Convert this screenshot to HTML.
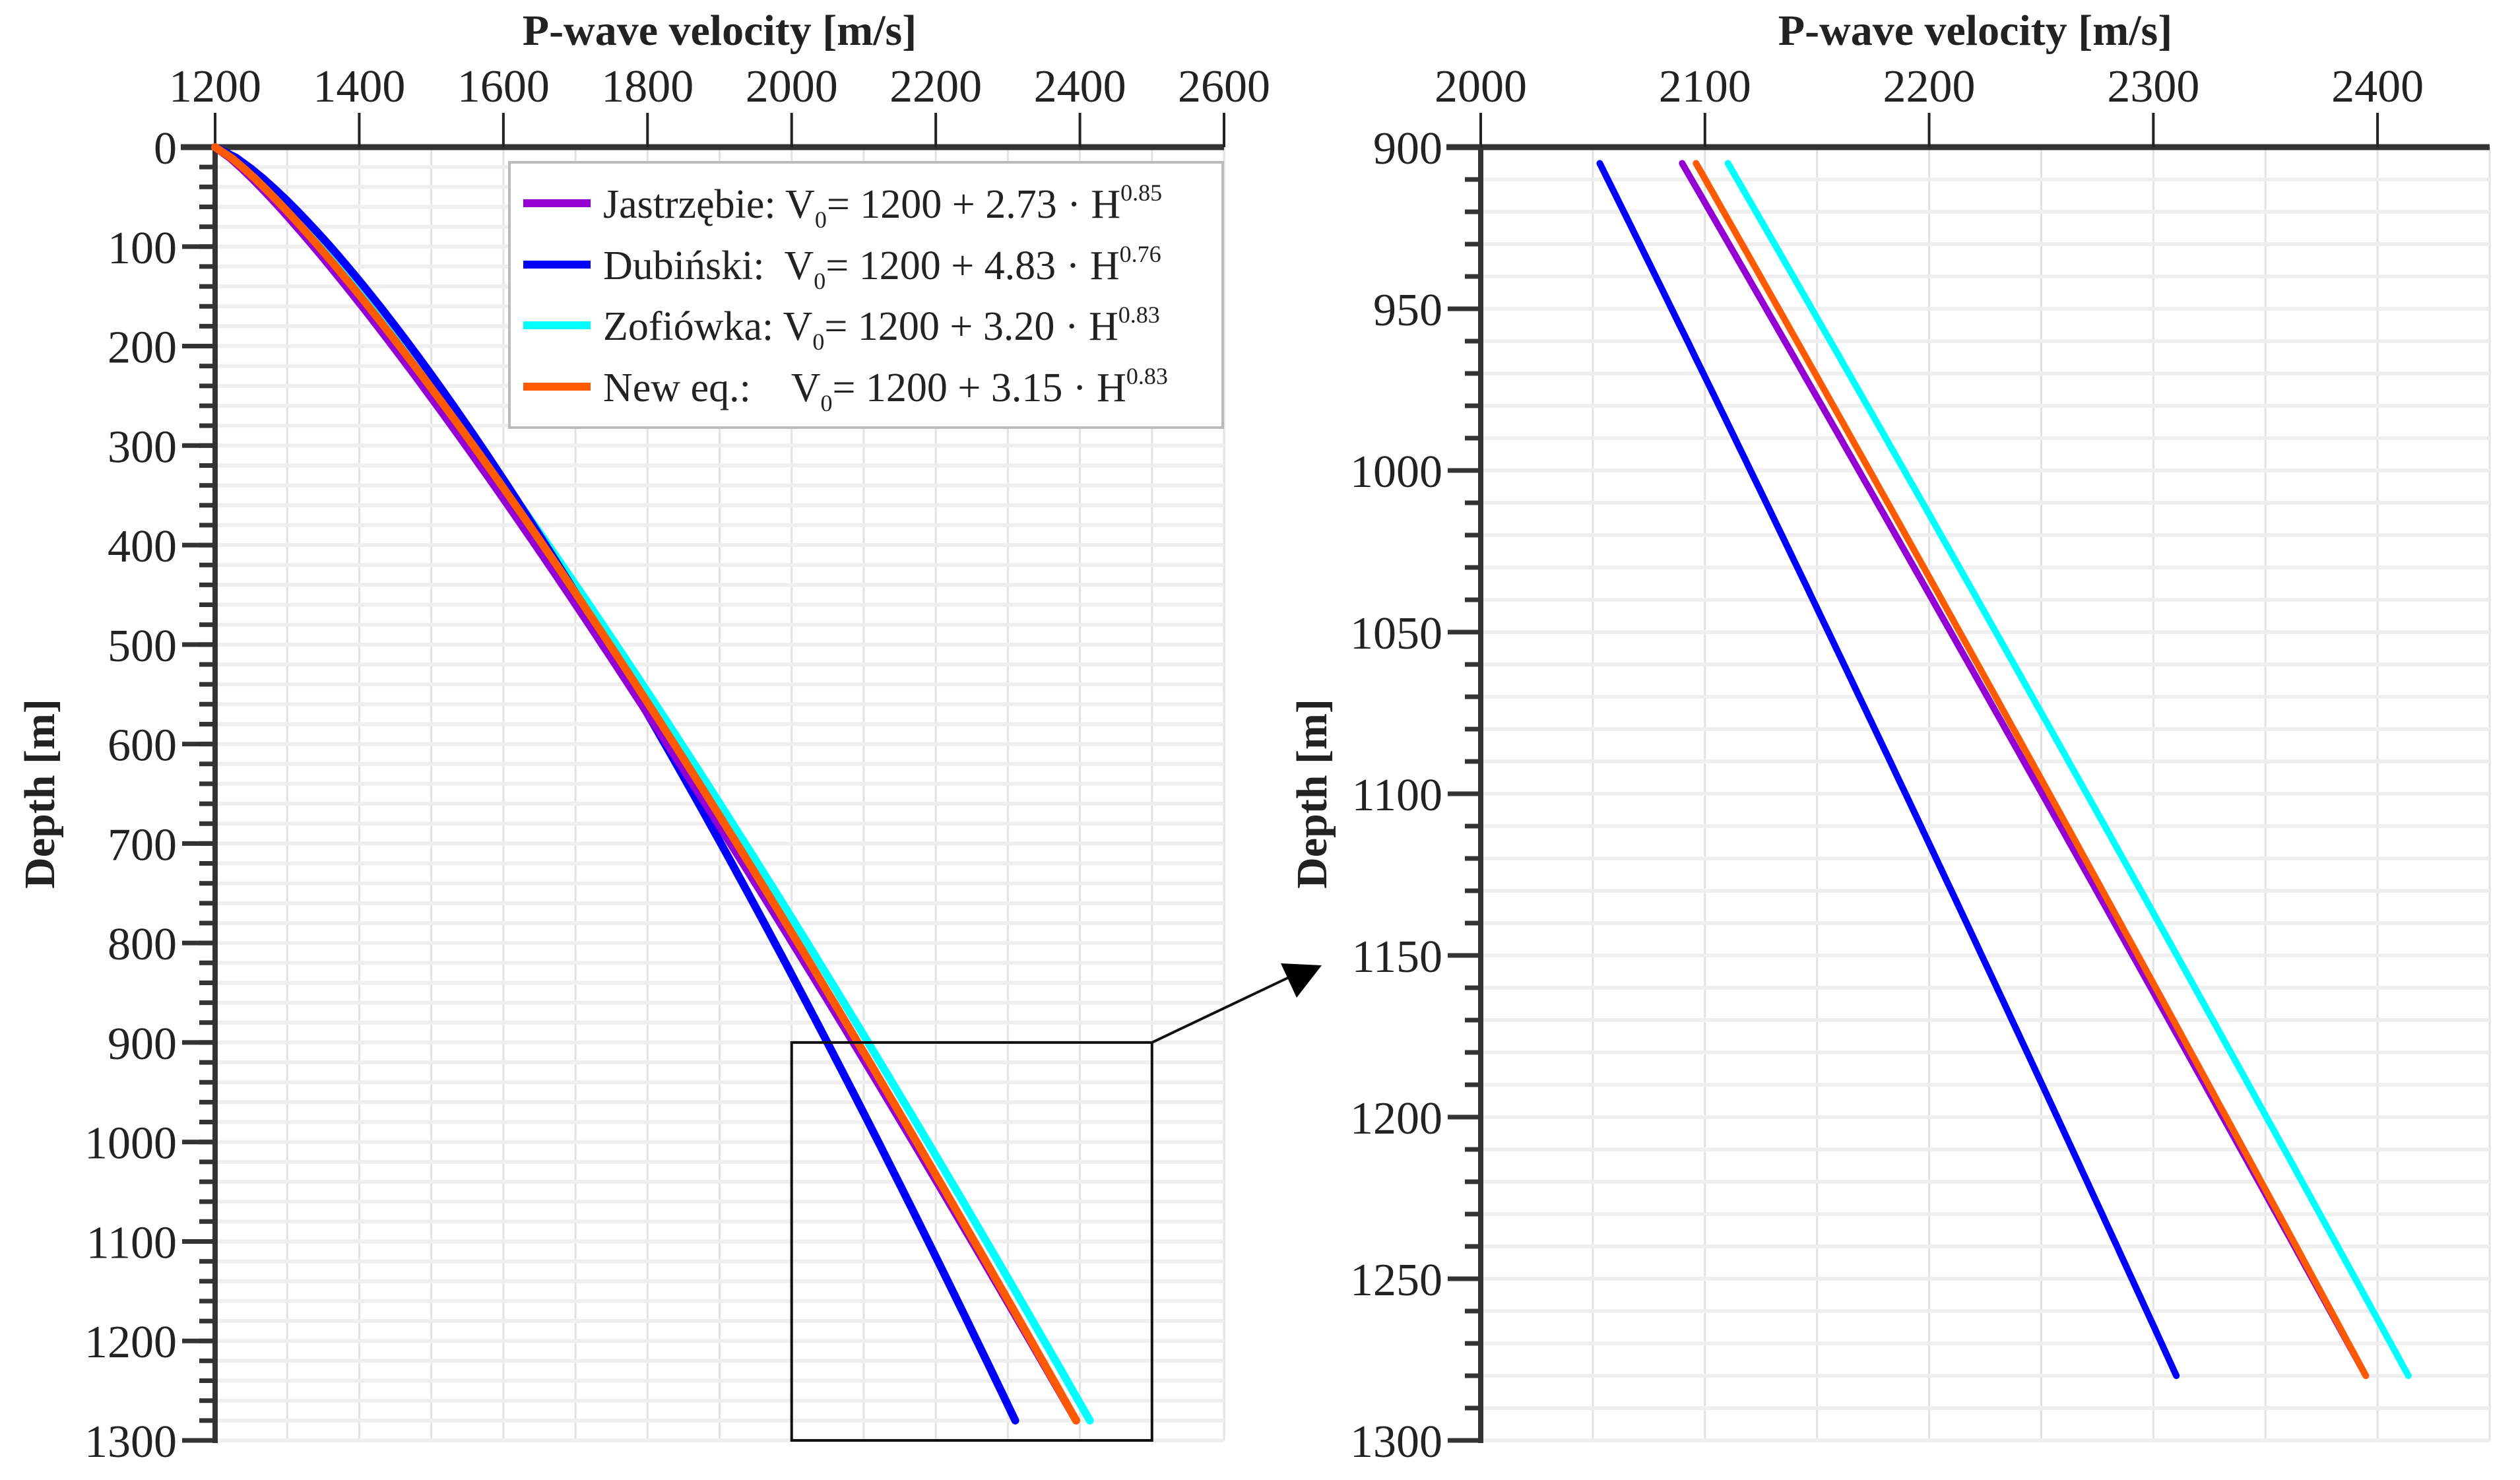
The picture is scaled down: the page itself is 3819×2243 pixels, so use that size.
<!DOCTYPE html>
<html><head><meta charset="utf-8"><style>
html,body{margin:0;padding:0;background:#fff}
svg{display:block}
text{font-family:"Liberation Serif",serif;fill:#222}
.pre{white-space:pre}
</style></head><body>
<svg id="chart" width="3819" height="2243" viewBox="0 0 3819 2243" xmlns="http://www.w3.org/2000/svg">
<g id="left"></g>
<g id="right"></g>
</svg>
<script>
const seriesNames = ["Jastrzębie", "Dubiński", "Zofiówka", "New eq."];
const seriesA = [2.73, 4.83, 3.20, 3.15];
const seriesB = [0.85, 0.76, 0.83, 0.83];
const seriesColors = ["#9400d3", "#0000ff", "#00ffff", "#ff5a00"];
const leftXTicks = [1200, 1400, 1600, 1800, 2000, 2200, 2400, 2600];
const leftYTicks = [0, 100, 200, 300, 400, 500, 600, 700, 800, 900, 1000, 1100, 1200, 1300];
const rightXTicks = [2000, 2100, 2200, 2300, 2400];
const rightYTicks = [900, 950, 1000, 1050, 1100, 1150, 1200, 1250, 1300];
const fullDepthRange = [0, 1280];
const zoomDepthRange = [905, 1280];
const baseVelocity = 1200;

const NS = "http://www.w3.org/2000/svg";
function mk(parent, tag, attrs, txt) {
  const e = document.createElementNS(NS, tag);
  for (const k in attrs) e.setAttribute(k, attrs[k]);
  if (txt !== undefined) e.textContent = txt;
  parent.appendChild(e);
  return e;
}
function vel(i, h) { return baseVelocity + seriesA[i] * Math.pow(h, seriesB[i]); }

function panel(g, cfg) {
  const sx = v => cfg.x0 + (v - cfg.xmin) / (cfg.xmax - cfg.xmin) * (cfg.x1 - cfg.x0);
  const sy = d => cfg.y0 + (d - cfg.ymin) / (cfg.ymax - cfg.ymin) * (cfg.y1 - cfg.y0);
  for (let v = cfg.xmin + cfg.xgrid; v <= cfg.xmax + 0.01; v += cfg.xgrid) {
    const l = mk(g, "line", {x1: sx(v), x2: sx(v), y1: cfg.y0, y2: cfg.y1, stroke: "#e2e2e2", "stroke-width": 3});
    
    
  }
  for (let d = cfg.ymin + cfg.yminor; d <= cfg.ymax + 0.01; d += cfg.yminor) {
    const l = mk(g, "line", {x1: cfg.x0, x2: cfg.x1, y1: sy(d), y2: sy(d), stroke: "#efefef", "stroke-width": 6});
    
    
    const t = mk(g, "line", {x1: cfg.x0 - 24, x2: cfg.x0, y1: sy(d), y2: sy(d), stroke: "#333", "stroke-width": 7});
    
    
  }
  const ax = mk(g, "line", {x1: cfg.x0 - 52, x2: cfg.x1, y1: cfg.y0, y2: cfg.y0, stroke: "#333", "stroke-width": 9});
  
  
  const ay = mk(g, "line", {x1: cfg.x0, x2: cfg.x0, y1: cfg.y0, y2: cfg.y1 + 4, stroke: "#333", "stroke-width": 8});
  
  
  cfg.xticks.forEach(v => {
    const t = mk(g, "line", {x1: sx(v), x2: sx(v), y1: cfg.y0, y2: cfg.y0 - 52, stroke: "#222", "stroke-width": 4});
    
    
    const lb = mk(g, "text", {x: sx(v), y: 154, "font-size": 70, "text-anchor": "middle"}, String(v));
    
    
  });
  cfg.yticks.forEach(d => {
    const t = mk(g, "line", {x1: cfg.x0 - 50, x2: cfg.x0, y1: sy(d), y2: sy(d), stroke: "#333", "stroke-width": 7});
    
    
    const lb = mk(g, "text", {x: cfg.x0 - 58, y: sy(d) + 25, "font-size": 70, "text-anchor": "end"}, String(d));
    
    
  });
  const xt = mk(g, "text", {x: (cfg.x0 + cfg.x1) / 2 + cfg.titleShift, y: 68, "font-size": 66, "font-weight": "bold", "text-anchor": "middle"}, "P-wave velocity [m/s]");
  
  
  const yt = mk(g, "text", {x: 0, y: 0, "font-size": 66, "font-weight": "bold", "text-anchor": "middle", transform: `translate(${cfg.ytx},${(cfg.y0 + cfg.y1) / 2}) rotate(-90)`}, "Depth [m]");
  
  
  const drawOrder = [2, 1, 0, 3];
  drawOrder.forEach(i => {
    const pts = [];
    const n = 120;
    for (let k = 0; k <= n; k++) {
      const h = cfg.drange[0] + (cfg.drange[1] - cfg.drange[0]) * k / n;
      pts.push(sx(vel(i, h)).toFixed(1) + "," + sy(h).toFixed(1));
    }
    const p = mk(g, "polyline", {points: pts.join(" "), fill: "none", stroke: seriesColors[i], "stroke-width": cfg.lw, "stroke-linecap": "round", "stroke-linejoin": "round"});
    
    
  });
  return {sx, sy};
}

const L = panel(document.getElementById("left"), {x0: 326, x1: 1855, y0: 223, y1: 2183, xmin: 1200, xmax: 2600, ymin: 0, ymax: 1300,
  xgrid: 100, yminor: 20, xticks: leftXTicks, yticks: leftYTicks, drange: fullDepthRange, lw: 12, ytx: 82, titleShift: 0});
const R = panel(document.getElementById("right"), {x0: 2244, x1: 3773, y0: 223, y1: 2183, xmin: 2000, xmax: 2450, ymin: 900, ymax: 1300,
  xgrid: 50, yminor: 10, xticks: rightXTicks, yticks: rightYTicks, drange: zoomDepthRange, lw: 10, ytx: 2010, titleShift: -15});

const lg = document.getElementById("left");
const zr = mk(lg, "rect", {x: L.sx(2000), y: L.sy(900), width: L.sx(2500) - L.sx(2000), height: L.sy(1300) - L.sy(900), fill: "none", stroke: "#111", "stroke-width": 4});


const ar = mk(lg, "line", {x1: L.sx(2500), y1: L.sy(900), x2: 1960, y2: 1478, stroke: "#111", "stroke-width": 4});


const ah = mk(lg, "polygon", {points: "1941,1460 2003,1463 1965,1512", fill: "#000"});



const leg = mk(lg, "g", {});


const lb = mk(leg, "rect", {x: 772, y: 246, width: 1081, height: 402, fill: "#fff", stroke: "#bbb", "stroke-width": 4});


const labels = [
  ["Jastrzębie: V", "= 1200 + 2.73 · H", "0.85"],
  ["Dubiński:  V", "= 1200 + 4.83 · H", "0.76"],
  ["Zofiówka: V", "= 1200 + 3.20 · H", "0.83"],
  ["New eq.:    V", "= 1200 + 3.15 · H", "0.83"]
];
const rowY = [308, 401, 493, 586];
labels.forEach((lab, i) => {
  const e = mk(leg, "g", {});
  
  
  const sw = mk(e, "line", {x1: 793, x2: 895, y1: rowY[i], y2: rowY[i], stroke: seriesColors[i], "stroke-width": 12});
  
  
  const t = mk(e, "text", {x: 914, y: rowY[i] + 22, "font-size": 62, "class": "pre"});
  
  
  mk(t, "tspan", {}, lab[0]);
  mk(t, "tspan", {"font-size": 36, dy: 15}, "0");
  mk(t, "tspan", {dy: -15}, lab[1]);
  mk(t, "tspan", {"font-size": 36, dy: -26}, lab[2]);
});
</script>
</body></html>
